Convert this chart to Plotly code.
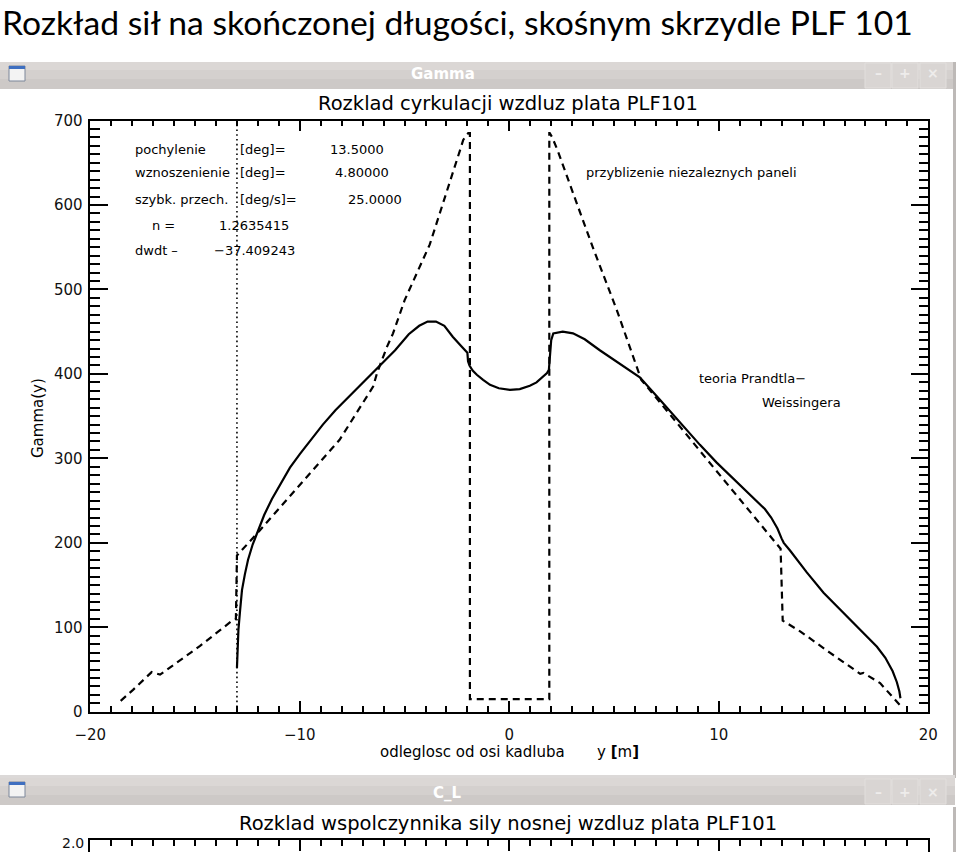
import plotly.graph_objects as go

# ---------------- data ----------------
# Prandtl-Weissinger theory (solid)
pw_x = [-13.0, -12.97, -12.93, -12.85, -12.76, -12.62, -12.47, -12.25, -11.99, -11.7, -11.33,
        -10.9, -10.47, -10.0, -9.5, -8.9, -8.3, -7.65, -7.03, -6.2, -5.45, -4.8, -4.3, -3.9,
        -3.5, -3.1, -2.7, -2.3, -2.05, -2.0, -1.97, -1.9, -1.75, -1.55, -1.25, -0.92, -0.5,
        0.03, 0.5, 0.98, 1.3, 1.6, 1.8, 1.89, 1.95, 2.0, 2.1, 2.55, 3.04, 3.6, 4.32, 5.2,
        6.23, 7.2, 8.3, 9.1, 9.9, 10.9, 11.8, 12.2, 12.5, 12.8, 13.0, 13.1, 13.4, 14.2, 15.0,
        15.8, 16.6, 17.1, 17.55, 17.95, 18.3, 18.5, 18.62, 18.67]
pw_y = [52, 75, 97, 120, 144, 163, 180, 198, 215, 233, 252,
        271, 289, 305, 321, 340, 357, 373, 389, 409, 428, 447, 457, 462,
        462, 457, 444, 433, 427, 425, 415, 410, 404, 399, 393, 387, 383,
        381, 382, 386, 390, 396, 401, 405, 420, 440, 448, 450, 448, 441, 428, 413,
        396, 369, 338, 316, 295, 271, 250, 240, 230, 217, 205, 200, 191, 165, 141,
        121, 101, 89, 77, 64, 48, 35, 24, 16]

# independent panels approximation (dashed)
ip_x = [-18.55, -17.96, -17.07, -16.85, -16.67, -14.76, -13.25, -13.05, -13.0, -11.9, -10.0,
        -8.1, -6.5, -6.3, -5.84, -5.55, -5.0, -3.8, -2.35, -2.2, -1.96, -1.88, -1.88, 1.91,
        1.91, 1.93, 2.05, 2.3, 3.0, 4.0, 5.14, 6.3, 8.3, 9.9, 11.8, 12.95, 13.05, 13.9,
        15.3, 16.6, 16.75, 16.9, 17.7, 18.64]
ip_y = [13, 26, 47, 45, 44, 78, 107.5, 110, 185, 215, 268,
        322, 385, 402, 432, 448, 487, 553, 665, 677, 685, 685, 15, 15,
        685, 685, 680, 665, 617, 549, 475, 393, 333, 285, 228, 193, 108, 95,
        70, 48, 45, 46, 34, 8]

fuselage_y = [-13.0, -13.0]
fuselage_g = [0, 700]

x_ticks = [-20, -10, 0, 10, 20]
y_ticks = [0, 100, 200, 300, 400, 500, 600, 700]

params = [("pochylenie", "[deg]=", "13.5000"),
          ("wznoszenienie", "[deg]=", "4.80000"),
          ("szybk. przech.", "[deg/s]=", "25.0000")]
param_val_x = [-8.65, -8.41, -7.79]
param_y = [666, 639, 607]

# ---------------- helpers (pixel -> paper) ----------------
W, H = 960, 852
def PX(x):
    return x / W
def PY(y):
    return 1 - y / H

L, R, T, B = 90.3, 928.3, 120.5, 711.8
HERSHEY = "DejaVu Sans"

fig = go.Figure()

fig.add_trace(go.Scatter(x=pw_x, y=pw_y, mode="lines",
                         line=dict(color="black", width=2.2), showlegend=False))
fig.add_trace(go.Scatter(x=ip_x, y=ip_y, mode="lines",
                         line=dict(color="black", width=2.2, dash="7px,5px"), showlegend=False))
fig.add_trace(go.Scatter(x=fuselage_y, y=fuselage_g, mode="lines",
                         line=dict(color="black", width=1.6, dash="1.6px,3.2px"), showlegend=False))
# second (partially visible) window axes
fig.add_trace(go.Scatter(x=[0], y=[1.0], xaxis="x2", yaxis="y2", mode="markers",
                         marker=dict(size=0.1, color="white"), showlegend=False, hoverinfo="skip"))

axis_common = dict(showline=True, linecolor="black", linewidth=1.5, ticks="inside",
                   tickcolor="black", tickwidth=1.5, showgrid=False, zeroline=False,
                   automargin=False,
                   tickfont=dict(family=HERSHEY, size=15, color="#111"))

fig.update_layout(
    width=W, height=H,
    margin=dict(l=0, r=0, t=0, b=0, pad=0, autoexpand=False),
    paper_bgcolor="white", plot_bgcolor="white",
    showlegend=False,
    xaxis=dict(domain=[PX(L), PX(R)], range=[-20, 20], tickvals=x_ticks, ticklen=11,
               mirror="ticks", anchor="y", ticklabelstandoff=8,
               minor=dict(dtick=1, ticklen=6, ticks="inside", tickcolor="black", tickwidth=1.5),
               **axis_common),
    yaxis=dict(domain=[PY(B), PY(T)], range=[0, 700], tickvals=y_ticks, ticklen=18,
               mirror="ticks", anchor="x", ticklabelstandoff=3,
               minor=dict(dtick=10, ticklen=10, ticks="inside", tickcolor="black", tickwidth=1.5),
               **axis_common),
    xaxis2=dict(domain=[PX(L), PX(R)], range=[-20, 20], tickvals=x_ticks, ticklen=11,
                side="top", anchor="y2", showticklabels=False,
                minor=dict(dtick=1, ticklen=6, ticks="inside", tickcolor="black", tickwidth=1.5),
                **axis_common),
    yaxis2=dict(domain=[0, PY(840)], range=[1.96, 2.0], tickvals=[], anchor="x2",
                mirror=True, showticklabels=False, **axis_common),
)

ann = []
def txt(x, y, s, size, xref="paper", yref="paper", xanchor="left", yanchor="middle",
        family=HERSHEY, color="black", angle=0):
    ann.append(dict(x=x, y=y, xref=xref, yref=yref, text=s, showarrow=False,
                    xanchor=xanchor, yanchor=yanchor, textangle=angle,
                    font=dict(family=family, size=size, color=color)))

# page title
txt(PX(0), PY(0), "Rozkład sił na skończonej długości, skośnym skrzydle PLF 101", 33.7,
    family="Lato", color="black", yanchor="top")

# plot title and axis titles
txt(PX(508), PY(103), "Rozklad cyrkulacji wzdluz plata PLF101", 19.5, xanchor="center")
txt(PX(378), PY(752), "odleglosc od osi kadluba", 15)
txt(PX(595), PY(752), "y <b>[</b>m<b>]</b>", 15)
txt(PX(38), PY(418), "Gamma(y)", 15, xanchor="center", angle=-90)

# parameter block (data coordinates)
for i, (lab, unit, val) in enumerate(params):
    txt(-17.96, param_y[i], lab, 13, xref="x", yref="y")
    txt(-12.95, param_y[i], unit, 13, xref="x", yref="y")
    txt(param_val_x[i], param_y[i], val, 13, xref="x", yref="y")
txt(-17.14, 576, "n =", 13, xref="x", yref="y")
txt(-13.95, 576, "1.2635415", 13, xref="x", yref="y")
txt(-17.96, 546, "dwdt –", 13, xref="x", yref="y")
txt(-14.19, 546, "−37.409243", 13, xref="x", yref="y")

txt(3.57, 638, "przyblizenie niezaleznych paneli", 13, xref="x", yref="y")
txt(8.96, 395, "teoria Prandtla−", 13, xref="x", yref="y")
txt(11.96, 366, "Weissingera", 13, xref="x", yref="y")

# window title bars
txt(PX(443), PY(74), "<b>Gamma</b>", 15, xanchor="center", color="white")
txt(PX(447), PY(793), "<b>C_L</b>", 15, xanchor="center", color="white")
for bx, sym in [(878, "–"), (905, "+"), (933, "×")]:
    txt(PX(bx), PY(73), "<b>%s</b>" % sym, 14, xanchor="center", color="#eeeceb")
    txt(PX(bx), PY(792), "<b>%s</b>" % sym, 14, xanchor="center", color="#eeeceb")

# second window
txt(PX(508), PY(823), "Rozklad wspolczynnika sily nosnej wzdluz plata PLF101", 19.5, xanchor="center")
txt(PX(86), PY(843), "2.0", 14, xanchor="right", color="#111")

fig.update_layout(annotations=ann)

shapes = []
def rect(x0, y0, x1, y1, fill, line=None, lw=0):
    shapes.append(dict(type="rect", xref="paper", yref="paper",
                       x0=PX(x0), x1=PX(x1), y0=PY(y1), y1=PY(y0),
                       fillcolor=fill, line=dict(color=line or fill, width=lw), layer="below"))

for top in (62, 778):
    rect(0, top, 955, top + 8, "#dbd7d5")
    rect(0, top + 8, 955, top + 17, "#d4d0ce")
    rect(0, top + 17, 955, top + 27, "#cdc9c7")
    # buttons
    for bx0 in (865, 892, 920):
        rect(bx0, top + 1, bx0 + 26, top + 26, "#d9d5d3", "#e2dfdd", 1)
    # icon
    rect(9, top + 4, 25, top + 19, "#f3f3f3", "#7d879a", 1)
    rect(9, top + 4, 25, top + 7, "#3f6fc0")
# window right border
rect(953, 62, 956, 778, "#bdb9b7")
rect(953, 807, 956, 852, "#bdb9b7")
rect(0, 775, 955, 778, "#dcd9d8")

fig.update_layout(shapes=shapes)
fig.write_html("out.html", config={"displayModeBar": False},
               post_script="document.body.style.margin='0px';document.body.style.overflow='hidden';")
